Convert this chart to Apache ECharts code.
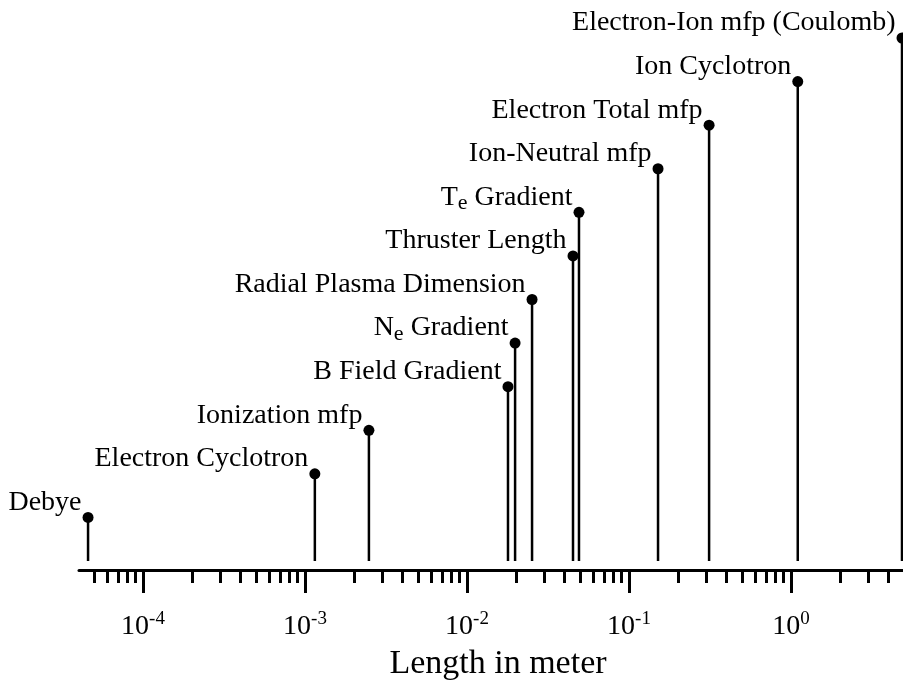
<!DOCTYPE html>
<html>
<head>
<meta charset="utf-8">
<script src="https://cdn.jsdelivr.net/npm/echarts@6/dist/echarts.min.js"></script>
<style>
    html, body { margin: 0; padding: 0; background: #fff; }
    #main { width: 903px; height: 683px; }
</style>
</head>
<body>
<div id="main"></div>
<script>
    // scale names (rich text for the subscripts)
    var names = ['Debye', 'Electron Cyclotron', 'Ionization mfp', 'B Field Gradient',
        'N{sub|e} Gradient', 'Radial Plasma Dimension', 'Thruster Length', 'T{sub|e} Gradient',
        'Ion-Neutral mfp', 'Electron Total mfp', 'Ion Cyclotron', 'Electron-Ion mfp (Coulomb)'];
    // length in meter
    var lengths = [4.58e-5, 1.15e-3, 2.48e-3, 0.0179, 0.0198, 0.0252, 0.0451, 0.0491, 0.151, 0.312, 1.10, 4.84];
    // stem levels (staircase)
    var levels = [1, 2, 3, 4, 5, 6, 7, 8, 9, 10, 11, 12];
    // decade exponents for the labelled ticks, minor multipliers
    var decades = [-4, -3, -2, -1, 0];
    var minorMult = [2, 3, 4, 5, 6, 7, 8, 9];

    var font = "'Liberation Serif', 'Times New Roman', serif";
    var xMin = -4.395, xMax = 0.691;

    var minorTicks = [];
    for (var d = -5; d <= 0; d++) {
        minorMult.forEach(function (k) {
            var v = Math.log10(k) + d;
            if (v > xMin && v < xMax) minorTicks.push(v);
        });
    }

    var points = lengths.map(function (v, i) {
        return [Math.log10(v), levels[i], names[i]];
    });

    var myChart = echarts.init(document.getElementById('main'));
    var option = {
        animation: false,
        backgroundColor: '#ffffff',
        grid: { left: 79, right: 0, top: 38, bottom: 113, outerBoundsMode: 'none', containLabel: false },
        xAxis: [
            {
                type: 'value',
                min: xMin,
                max: xMax,
                name: 'Length in meter',
                nameLocation: 'middle',
                nameGap: 77,
                nameMoveOverlap: false,
                nameTextStyle: { fontFamily: font, fontSize: 34, color: '#000', padding: [0, 0, 0, 14] },
                axisLine: { show: true, onZero: false, lineStyle: { color: '#000', width: 3 } },
                axisTick: { show: true, length: 23, customValues: decades, lineStyle: { color: '#000', width: 3 } },
                axisLabel: {
                    customValues: decades,
                    margin: 40,
                    color: '#000',
                    fontFamily: font,
                    fontSize: 28,
                    formatter: function (v) { return '10{sup|' + v + '}'; },
                    rich: {
                        sup: { fontFamily: font, fontSize: 19, color: '#000', padding: [0, 0, 14, 0] }
                    }
                },
                splitLine: { show: false }
            },
            {
                type: 'value',
                min: xMin,
                max: xMax,
                position: 'bottom',
                axisLine: { show: false, onZero: false },
                axisTick: { show: true, length: 13, customValues: minorTicks, lineStyle: { color: '#000', width: 3 } },
                axisLabel: { show: false },
                splitLine: { show: false }
            }
        ],
        yAxis: {
            type: 'value',
            min: -0.206,
            max: 12,
            show: false
        },
        series: [
            {
                // stems
                type: 'custom',
                data: points,
                renderItem: function (params, api) {
                    var base = api.coord([api.value(0), 0]);
                    var top = api.coord([api.value(0), api.value(1)]);
                    return {
                        type: 'line',
                        shape: { x1: base[0], y1: base[1], x2: top[0], y2: top[1] },
                        style: { stroke: '#000', lineWidth: 2.5 }
                    };
                }
            },
            {
                type: 'scatter',
                data: points,
                symbol: 'circle',
                symbolSize: 11,
                itemStyle: { color: '#000', opacity: 1 },
                emphasis: { disabled: true },
                label: {
                    show: true,
                    position: 'left',
                    distance: 1,
                    offset: [0, -15],
                    color: '#000',
                    opacity: 1,
                    fontFamily: font,
                    fontSize: 28,
                    formatter: function (p) { return p.data[2]; },
                    rich: {
                        sub: { fontFamily: font, fontSize: 22, color: '#000', padding: [12, 0, 0, 0] }
                    }
                }
            }
        ]
    };
    myChart.setOption(option);
</script>
</body>
</html>
